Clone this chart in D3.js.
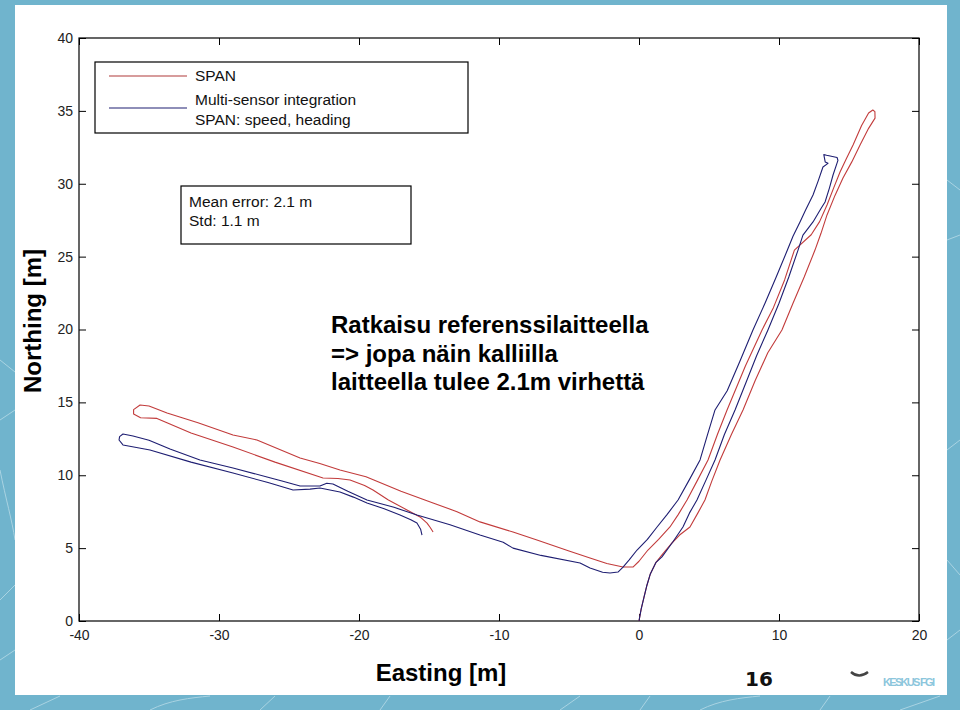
<!DOCTYPE html>
<html>
<head>
<meta charset="utf-8">
<script src="https://cdn.jsdelivr.net/npm/d3@7/dist/d3.min.js"></script>
<style>
  html, body { margin: 0; padding: 0; background: #70b4cd; }
  svg { display: block; }
</style>
</head>
<body>
<script>
// ---------- data ----------
const xTicks = [-40, -30, -20, -10, 0, 10, 20];
const yTicks = [0, 5, 10, 15, 20, 25, 30, 35, 40];

// SPAN reference trajectory [Easting, Northing]
const spanPath = [
  [0,0],[0.15,0.8],[0.35,1.6],[0.55,2.4],[0.8,3.2],[1.2,4.0],[1.7,4.6],[2.3,5.3],[2.9,5.9],[3.64,6.45],
  [4.2,7.4],[4.71,8.3],[5.2,9.6],[5.79,11.05],[6.6,12.8],[7.43,14.48],[8.3,16.5],[9.2,18.4],[10.21,19.97],
  [11.0,21.8],[11.8,23.6],[12.57,25.45],[13.0,26.6],[13.43,27.86],[14.0,29.2],[14.57,30.39],[15.2,31.5],
  [15.79,32.66],[16.4,33.8],[16.86,34.5],[16.85,34.95],[16.7,35.06],[16.4,34.85],[15.9,34.0],[15.29,32.66],
  [14.8,31.7],[14.36,30.81],[13.9,29.7],[13.43,28.54],[12.9,27.4],[12.3,26.5],[11.1,25.45],[10.4,23.4],
  [9.6,21.5],[8.79,19.97],[7.6,17.5],[6.29,14.48],[5.6,12.8],[4.93,11.05],[4.2,9.7],[3.43,8.3],[2.8,7.3],
  [2.21,6.45],[1.4,5.6],[0.64,4.87],[0.0,4.1],[-0.43,3.7],[-1.14,3.7],[-2.3,3.95],[-3.5,4.32],[-5.0,4.8],
  [-7.29,5.56],[-9.0,6.1],[-11.36,6.8],[-13.0,7.5],[-14.71,8.1],[-17.0,8.9],[-19.5,9.9],[-21.36,10.36],
  [-22.8,10.8],[-24.21,11.18],[-27.29,12.42],[-29,12.76],[-31.5,13.6],[-33.71,14.27],[-35.0,14.75],
  [-35.64,14.82],[-36.1,14.5],[-36.1,14.2],[-35.6,13.95],[-34.43,13.9],[-32,12.9],[-29,11.94],[-26,10.9],
  [-22.57,9.81],[-21.5,9.78],[-20.64,9.67],[-19.6,9.3],[-19,8.99],[-17.9,8.3],[-16.57,7.62],[-15.64,7.14],
  [-15.14,6.72],[-14.9,6.4],[-14.71,6.11]
];

// Multi-sensor integration (SPAN: speed, heading) trajectory [Easting, Northing]
const multiPath = [
  [0,0],[0.15,0.8],[0.35,1.6],[0.55,2.4],[0.8,3.2],[1.2,4.0],[1.64,4.4],[2.4,5.4],[3.14,6.45],[3.6,7.4],
  [4.14,8.3],[4.8,9.7],[5.43,11.05],[6.1,12.8],[6.86,14.48],[7.7,16.5],[8.4,18.2],[9.21,19.97],[10.0,21.8],
  [10.7,23.6],[11.36,25.45],[11.71,26.48],[12.43,27.38],[13.0,28.3],[13.29,28.75],[13.6,29.7],[13.86,30.6],
  [14.21,31.6],[14.15,31.8],[13.4,31.95],[13.2,32.0],[13.3,31.5],[13.5,31.4],[13.14,31.15],[12.8,30.2],
  [12.43,29.23],[11.9,28.2],[11.5,27.38],[11.0,26.4],[10.6,25.45],[9.8,23.6],[9.0,21.8],[8.14,19.97],
  [7.2,17.8],[6.3,15.8],[5.43,14.48],[4.9,12.8],[4.36,11.05],[3.6,9.7],[2.79,8.3],[2.0,7.3],[1.29,6.45],
  [0.6,5.6],[-0.14,4.87],[-0.7,4.2],[-1.14,3.7],[-1.5,3.36],[-2.07,3.29],[-2.6,3.35],[-3.5,3.64],
  [-4.21,3.98],[-7.0,4.5],[-9,5.0],[-9.7,5.4],[-11.36,5.9],[-13.5,6.6],[-15.86,7.27],[-17.5,7.8],
  [-19.43,8.3],[-20.8,8.9],[-21.86,9.4],[-22.3,9.45],[-22.79,9.26],[-24.21,9.26],[-25.5,9.6],[-26.57,9.88],
  [-29,10.5],[-31.36,11.05],[-33.5,11.8],[-35,12.4],[-36.14,12.69],[-36.86,12.83],[-37.1,12.65],
  [-37.14,12.42],[-36.86,12.08],[-34.93,11.73],[-32,10.9],[-29,10.15],[-26.5,9.5],[-24.71,8.99],
  [-23.5,9.05],[-22.79,9.12],[-21.36,8.85],[-20.4,8.5],[-19.43,8.1],[-18.2,7.7],[-17.07,7.27],
  [-16.3,6.95],[-15.86,6.72],[-15.6,6.3],[-15.5,5.9]
];

const seriesNames = ["SPAN", "Multi-sensor integration", "SPAN: speed, heading"];
const statsLines = ["Mean error: 2.1 m", "Std: 1.1 m"];
const noteLines = ["Ratkaisu referenssilaitteella", "=> jopa näin kalliilla", "laitteella tulee 2.1m virhettä"];
const xLabel = "Easting [m]";
const yLabel = "Northing [m]";
const pageNumber = "16";

// ---------- drawing ----------
const W = 960, H = 710;
const svg = d3.select("body").append("svg").attr("width", W).attr("height", H);

// page background + white slide panel
svg.append("rect").attr("width", W).attr("height", H).attr("fill", "#70b4cd");
const deco = svg.append("g").attr("stroke", "#a9d3e2").attr("fill", "none").attr("stroke-width", 1);
deco.append("path").attr("d", "M0,360 L15,372 M0,420 L15,410 M0,470 C6,500 12,520 15,540 M0,600 L15,585 M0,660 L15,650");
deco.append("path").attr("d", "M30,710 L60,696 M150,710 C170,700 190,698 210,696 M260,710 L275,696 M380,710 L390,696 M560,710 L580,696 M640,710 L650,696 M700,710 C720,700 740,698 760,696 M820,710 L830,696 M900,710 L940,696");
deco.append("path").attr("d", "M947,180 L960,190 M947,240 L960,235 M947,450 L960,440 M947,560 L960,575 M947,640 L960,630");
svg.append("rect").attr("x", 15).attr("y", 5).attr("width", 932).attr("height", 690).attr("fill", "#ffffff");

const m = { left: 79, top: 38, right: 919, bottom: 621 };
const x = d3.scaleLinear().domain([-40, 20]).range([m.left, m.right]);
const y = d3.scaleLinear().domain([0, 40]).range([m.bottom, m.top]);

const tickFont = "Liberation Sans, Arial, sans-serif";
const tickLen = 7;
const plainNum = d => String(d);   // hyphen-minus, as in the original

const axB = d3.axisBottom(x).tickValues(xTicks).tickSize(-tickLen).tickPadding(6).tickFormat(plainNum);
const axT = d3.axisTop(x).tickValues(xTicks).tickSize(-tickLen).tickFormat("");
const axL = d3.axisLeft(y).tickValues(yTicks).tickSize(-tickLen).tickPadding(6).tickFormat(plainNum);
const axR = d3.axisRight(y).tickValues(yTicks).tickSize(-tickLen).tickFormat("");

function styleAxis(g) {
  g.select(".domain").remove();
  g.selectAll(".tick line").attr("stroke", "#000");
  g.selectAll(".tick text").attr("fill", "#222").style("font-family", tickFont).style("font-size", "14px");
}
svg.append("g").attr("transform", `translate(0,${m.bottom})`).call(axB).call(styleAxis)
  .selectAll(".tick text").attr("dy", "0.95em");
svg.append("g").attr("transform", `translate(0,${m.top})`).call(axT).call(styleAxis);
svg.append("g").attr("transform", `translate(${m.left},0)`).call(axL).call(styleAxis);
svg.append("g").attr("transform", `translate(${m.right},0)`).call(axR).call(styleAxis);

// frame
svg.append("rect").attr("x", m.left).attr("y", m.top)
  .attr("width", m.right - m.left).attr("height", m.bottom - m.top)
  .attr("fill", "none").attr("stroke", "#000").attr("stroke-width", 1.2);

// trajectories
const line = d3.line().x(d => x(d[0])).y(d => y(d[1])).curve(d3.curveLinear);
const redColor = "#c23b3b", blueColor = "#1e1e72";
svg.append("path").datum(spanPath).attr("d", line)
  .attr("fill", "none").attr("stroke", redColor).attr("stroke-width", 1.1).attr("stroke-linejoin", "round");
svg.append("path").datum(multiPath).attr("d", line)
  .attr("fill", "none").attr("stroke", blueColor).attr("stroke-width", 1.1).attr("stroke-linejoin", "round");

// legend
const leg = svg.append("g");
leg.append("rect").attr("x", 95).attr("y", 62).attr("width", 373).attr("height", 71)
  .attr("fill", "#fff").attr("stroke", "#000").attr("stroke-width", 1.2);
leg.append("line").attr("x1", 109).attr("x2", 187).attr("y1", 76).attr("y2", 76)
  .attr("stroke", "#b03a3a").attr("stroke-width", 1.2);
leg.append("line").attr("x1", 109).attr("x2", 187).attr("y1", 108).attr("y2", 108)
  .attr("stroke", blueColor).attr("stroke-width", 1.2);
const legText = leg.append("g").style("font-family", tickFont).style("font-size", "15.5px").attr("fill", "#111");
legText.append("text").attr("x", 195).attr("y", 81).text(seriesNames[0]);
legText.append("text").attr("x", 195).attr("y", 105).text(seriesNames[1]);
legText.append("text").attr("x", 195).attr("y", 125).text(seriesNames[2]);

// stats box
const st = svg.append("g");
st.append("rect").attr("x", 181).attr("y", 186).attr("width", 230).attr("height", 58)
  .attr("fill", "#fff").attr("stroke", "#000").attr("stroke-width", 1.2);
st.selectAll("text").data(statsLines).join("text")
  .attr("x", 189).attr("y", (d, i) => 207 + i * 19)
  .style("font-family", tickFont).style("font-size", "15.5px").attr("fill", "#111")
  .text(d => d);

// overlay note
svg.append("g").selectAll("text").data(noteLines).join("text")
  .attr("x", 331).attr("y", (d, i) => 333 + i * 28.5)
  .style("font-family", "Liberation Sans, Arial, sans-serif").style("font-weight", "bold")
  .style("font-size", "24px").attr("fill", "#000")
  .text(d => d);

// axis labels
svg.append("text").attr("x", 441).attr("y", 681).attr("text-anchor", "middle")
  .style("font-family", "Liberation Sans, Arial, sans-serif").style("font-weight", "bold")
  .style("font-size", "24px").attr("fill", "#000").text(xLabel);
svg.append("text").attr("transform", "translate(41,321) rotate(-90)").attr("text-anchor", "middle")
  .style("font-family", "Liberation Sans, Arial, sans-serif").style("font-weight", "bold")
  .style("font-size", "24px").attr("fill", "#000").text(yLabel);

// page number
svg.append("text").attr("x", 759).attr("y", 686).attr("text-anchor", "middle")
  .style("font-family", "DejaVu Sans, sans-serif").style("font-weight", "bold")
  .style("font-size", "20px").attr("fill", "#111").text(pageNumber);

// faded logo
svg.append("path").attr("d", "M851,672 Q859,679 868,672").attr("fill", "none")
  .attr("stroke", "#444").attr("stroke-width", 2.5);
svg.append("text").attr("x", 883).attr("y", 686)
  .style("font-family", "Liberation Sans, Arial, sans-serif").style("font-size", "11px")
  .style("font-weight", "bold").attr("fill", "#8cc6dc").attr("textLength", 52).text("KESKUS FGI");
</script>
</body>
</html>
